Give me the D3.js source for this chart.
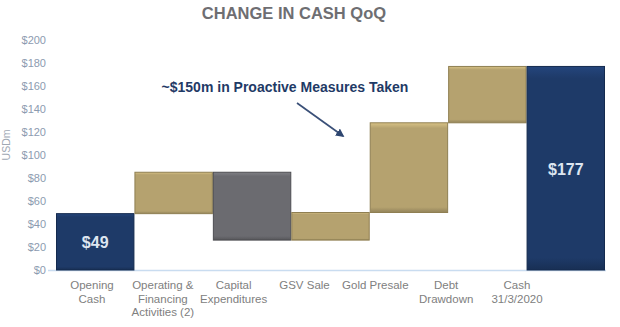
<!DOCTYPE html>
<html>
<head>
<meta charset="utf-8">
<script src="https://cdn.jsdelivr.net/npm/d3@7"></script>
<style>
  html, body { margin: 0; padding: 0; background: #fff; }
  svg { display: block; font-family: "Liberation Sans", Arial, sans-serif; }
</style>
</head>
<body>
<svg id="chart" width="620" height="327"></svg>
<script>
// ---- data ----
const categories = [["Opening", "Cash"], ["Operating &", "Financing", "Activities (2)"], ["Capital", "Expenditures"], ["GSV Sale"], ["Gold Presale"], ["Debt", "Drawdown"], ["Cash", "31/3/2020"]];
const changes = [49, 36, -59, 24, 78, 49, 177];
const kinds = ["total", "up", "down", "up", "up", "up", "total"];
const yTicks = [0, 20, 40, 60, 80, 100, 120, 140, 160, 180, 200];
const barLabels = ["$49", null, null, null, null, null, "$177"];

const colors = { total: "#1e3a68", up: "#b5a26f", down: "#6b6b70" };
const strokes = { total: "#142a4e", up: "#8f7f52", down: "#4d4d52" };

const svg = d3.select("#chart");

const x = d3.scaleBand().domain(d3.range(categories.length)).range([56, 605]).paddingInner(0).paddingOuter(0);
const xLab = d3.scalePoint().domain(d3.range(categories.length)).range([92, 517]);
const y = d3.scaleLinear().domain([0, 200]).range([270, 40]);

// compute waterfall
let run = 0;
const bars = changes.map((c, i) => {
  let lo, hi;
  if (kinds[i] === "total") { lo = 0; hi = c; run = c; }
  else { const s = run; run = s + c; lo = Math.min(s, run); hi = Math.max(s, run); }
  return { i, lo, hi, kind: kinds[i], label: barLabels[i] };
});

// title
svg.append("text").attr("x", 294).attr("y", 19).attr("text-anchor", "middle")
  .attr("font-size", 16.5).attr("font-weight", "bold").attr("fill", "#6e6e72")
  .text("CHANGE IN CASH QoQ");

// y axis labels
const yAxis = d3.axisLeft(y).tickValues(yTicks).tickFormat(d => "$" + d).tickSize(0).tickPadding(0);
const gy = svg.append("g").attr("transform", "translate(46,0)").call(yAxis);
gy.select(".domain").remove();
gy.selectAll("text").attr("font-size", 11).attr("fill", "#8c9bb0").attr("font-family", "Liberation Sans, Arial, sans-serif");

svg.append("text").attr("transform", "translate(10,145) rotate(-90)").attr("text-anchor", "middle")
  .attr("font-size", 10.5).attr("fill", "#a0a8b4").text("USDm");

// baseline
svg.append("line").attr("x1", 48).attr("x2", 606).attr("y1", y(0) + 0.5).attr("y2", y(0) + 0.5)
  .attr("stroke", "#c9dcf0").attr("stroke-width", 1.5);

// gradients for bevel
const defs = svg.append("defs");
Object.keys(colors).forEach(k => {
  const g = defs.append("linearGradient").attr("id", "g-" + k).attr("x1", 0).attr("x2", 0).attr("y1", 0).attr("y2", 1);
  const c = d3.color(colors[k]);
  g.append("stop").attr("offset", "0%").attr("stop-color", c.brighter(0.5));
  g.append("stop").attr("offset", "6%").attr("stop-color", colors[k]);
  g.append("stop").attr("offset", "94%").attr("stop-color", colors[k]);
  g.append("stop").attr("offset", "100%").attr("stop-color", c.darker(0.6));
});

// bars
const gb = svg.append("g");
gb.selectAll("rect.bar").data(bars).join("rect").attr("class", "bar")
  .attr("x", d => x(d.i) + 0.5)
  .attr("width", x.bandwidth() - 1)
  .attr("y", d => y(d.hi))
  .attr("height", d => y(d.lo) - y(d.hi))
  .attr("fill", d => `url(#g-${d.kind})`)
  .attr("stroke", d => strokes[d.kind]).attr("stroke-width", 1);

// bar value labels
gb.selectAll("text.val").data(bars.filter(d => d.label)).join("text").attr("class", "val")
  .attr("x", d => x(d.i) + x.bandwidth() / 2)
  .attr("y", d => d.i === 0 ? (y(d.hi) + y(d.lo)) / 2 + 6 : y(88) + 6)
  .attr("text-anchor", "middle").attr("font-size", 16).attr("font-weight", "bold")
  .attr("fill", "#dde5f0").text(d => d.label);

// x labels
const gx = svg.append("g");
categories.forEach((lines, i) => {
  const t = gx.append("text").attr("x", xLab(i)).attr("y", 289)
    .attr("text-anchor", "middle").attr("font-size", 11.5).attr("fill", "#808080");
  lines.forEach((l, j) => t.append("tspan").attr("x", xLab(i)).attr("dy", j === 0 ? 0 : 13.5).text(l));
});

// annotation
svg.append("text").attr("x", 285).attr("y", 92).attr("text-anchor", "middle")
  .attr("font-size", 14).attr("font-weight", "bold").attr("fill", "#1f3a66")
  .text("~$150m in Proactive Measures Taken");

defs.append("marker").attr("id", "arrow").attr("viewBox", "0 0 10 10").attr("refX", 8).attr("refY", 5)
  .attr("markerWidth", 5).attr("markerHeight", 5).attr("orient", "auto")
  .append("path").attr("d", "M0,0 L10,5 L0,10 z").attr("fill", "#2e4670");
svg.append("line").attr("x1", 297).attr("y1", 103).attr("x2", 343).attr("y2", 136)
  .attr("stroke", "#3a5078").attr("stroke-width", 1.7).attr("marker-end", "url(#arrow)");
</script>
</body>
</html>
